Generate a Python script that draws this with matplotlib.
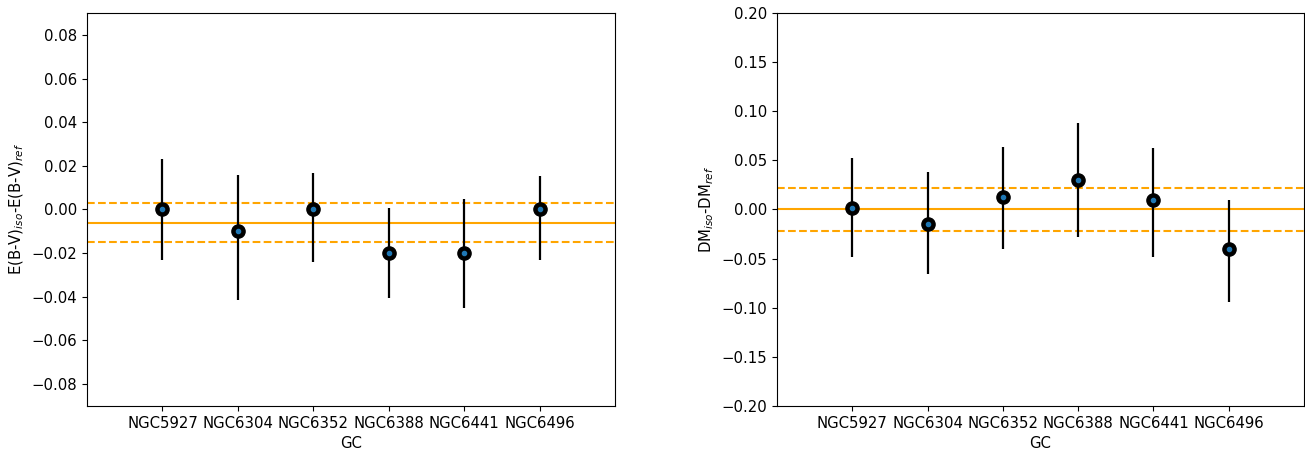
import matplotlib
matplotlib.use("Agg")
import matplotlib.pyplot as plt
import numpy as np

plt.rcParams['font.size'] = 10.7

clusters = ["NGC5927", "NGC6304", "NGC6352", "NGC6388", "NGC6441", "NGC6496"]

# reddening offsets E(B-V)_iso - E(B-V)_ref
ebv = [0.000, -0.010, 0.000, -0.020, -0.020, 0.000]
ebv_err_lo = [0.023, 0.0315, 0.024, 0.0205, 0.025, 0.023]
ebv_err_hi = [0.023, 0.026, 0.0165, 0.0205, 0.025, 0.0155]
ebv_mean = -0.006
ebv_band = [0.003, -0.015]

# distance modulus offsets DM_iso - DM_ref
dm = [0.002, -0.015, 0.013, 0.030, 0.010, -0.040]
dm_err_lo = [0.050, 0.051, 0.053, 0.058, 0.058, 0.054]
dm_err_hi = [0.050, 0.053, 0.051, 0.058, 0.053, 0.050]
dm_mean = 0.000
dm_band = [0.022, -0.022]


def panel(ax, vals, lo, hi, mean, band, ylabel, ylim, ticks):
    x = np.arange(len(clusters))
    ax.errorbar(x, vals, yerr=[lo, hi], fmt='o', color='k', ms=9.5,
                elinewidth=1.6, capsize=0, zorder=3)
    ax.plot(x, vals, '.', color='C0', zorder=4)
    ax.axhline(mean, color='orange', lw=1.5, zorder=2)
    for b in band:
        ax.axhline(b, color='orange', lw=1.5, ls='--', zorder=2)
    ax.set_xlim(-1, len(clusters))
    ax.set_ylim(*ylim)
    ax.set_yticks(ticks)
    ax.set_xticks(x)
    ax.set_xticklabels(clusters)
    ax.set_xlabel("GC")
    ax.set_ylabel(ylabel)


fig = plt.figure(figsize=(13.05, 4.5), dpi=100)
ax1 = fig.add_axes([0.0667, 0.0978, 0.4046, 0.8733])
ax2 = fig.add_axes([0.5954, 0.0978, 0.4038, 0.8733])

panel(ax1, ebv, ebv_err_lo, ebv_err_hi, ebv_mean, ebv_band,
      "E(B-V)$_{iso}$-E(B-V)$_{ref}$", (-0.09, 0.09),
      np.arange(-0.08, 0.081, 0.02))
panel(ax2, dm, dm_err_lo, dm_err_hi, dm_mean, dm_band,
      "DM$_{iso}$-DM$_{ref}$", (-0.2, 0.2),
      np.arange(-0.20, 0.201, 0.05))

fig.savefig("out.png", dpi=100)
